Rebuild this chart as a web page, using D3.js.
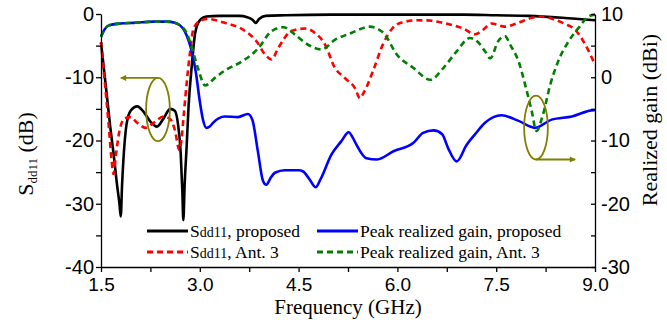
<!DOCTYPE html>
<html>
<head>
<meta charset="utf-8">
<script src="https://cdn.jsdelivr.net/npm/d3@7"></script>
<style>
  body { margin: 0; background: #fff; }
  .axis text { font-family: "Liberation Sans", Arial, sans-serif; font-size: 20px; fill: #000; }
  .axis path, .axis line { stroke: #000; stroke-width: 1.3px; }
  .title { font-family: "Liberation Serif", "Times New Roman", serif; font-size: 22px; fill: #000; }
  .leg { font-family: "Liberation Serif", "Times New Roman", serif; font-size: 17.5px; fill: #000; }
</style>
</head>
<body>
<script>
// S_dd11, proposed (dB)
var sddPropF = [1.5,1.54,1.59,1.64,1.69,1.74,1.78,1.80,1.82,1.85,1.89,1.95,2.05,2.15,2.25,2.35,2.45,2.55,2.62,2.67,2.71,2.735,2.75,2.77,2.8,2.83,2.88,2.93,3.0,3.1,3.3,3.6,3.72,3.8,3.85,3.9,4.0,4.3,5,6,7,7.5,8,8.5,9];
var sddPropV = [-4.5,-8.3,-13,-17.8,-22,-26.7,-30,-32,-27,-21.5,-17.3,-15.3,-14.6,-15.5,-17,-17.8,-16.5,-15,-15.3,-17.5,-22,-28,-32.6,-27,-21,-14.5,-8,-3,-1,-0.4,-0.3,-0.3,-0.5,-0.9,-1.4,-0.8,-0.3,-0.2,-0.1,-0.1,-0.1,-0.2,-0.3,-0.6,-1.0];

// S_dd11, Ant. 3 (dB)
var sddAnt3F = [1.5,1.56,1.62,1.66,1.69,1.73,1.78,1.86,1.95,2.05,2.18,2.3,2.45,2.55,2.62,2.69,2.72,2.76,2.8,2.85,2.9,3.0,3.12,3.38,3.69,3.86,3.99,4.09,4.19,4.39,4.6,4.75,4.9,5.05,5.2,5.36,5.43,5.5,5.63,5.78,5.93,6.08,6.3,6.45,6.65,6.85,7.0,7.18,7.3,7.43,7.63,7.83,8.04,8.19,8.39,8.55,8.7,8.85,9.0];
var sddAnt3V = [-4.5,-11,-18,-23,-25.3,-22,-18.5,-16.5,-16.3,-17.2,-18,-17.2,-16.2,-16.6,-18.3,-21.5,-20,-15.5,-11,-6.2,-2.5,-1.1,-0.8,-1.4,-2.7,-4.3,-6.4,-7.2,-5.4,-2.7,-2.3,-3.0,-4.8,-8.5,-10.1,-11.8,-13.3,-12.2,-9,-4.8,-2.2,-1.3,-1.0,-1.0,-1.3,-1.8,-2.3,-3.2,-2.5,-1.5,-2.0,-1.4,-0.6,-0.4,-0.9,-1.6,-2.5,-4.8,-8];

// Peak realized gain, proposed (dBi)
var gainPropF = [1.5,1.55,1.62,1.8,2.0,2.3,2.5,2.62,2.7,2.77,2.83,2.88,2.94,3.0,3.05,3.1,3.15,3.2,3.38,3.58,3.73,3.8,3.88,3.96,4.01,4.07,4.14,4.29,4.5,4.57,4.67,4.76,4.83,5.0,5.15,5.26,5.32,5.38,5.53,5.69,5.94,6.24,6.39,6.55,6.68,6.77,6.9,7.05,7.18,7.33,7.58,7.84,8.09,8.34,8.65,8.98,9.0];
var gainPropV = [6.4,7.5,8.2,8.5,8.6,8.8,8.8,8.6,8.2,7.3,5.8,4.0,0.8,-3.8,-6.8,-8.0,-7.8,-7.2,-6.2,-6.3,-5.8,-6.8,-11.6,-16.4,-17,-16,-15.1,-14.7,-14.7,-14.9,-16.2,-17.4,-16.2,-12.2,-10.1,-8.7,-9.5,-10.7,-12.8,-13,-11.7,-10.4,-8.8,-8.4,-9,-11.2,-13.3,-10.7,-9.0,-7.2,-6.0,-6.9,-8.0,-6.7,-6.2,-5.2,-5.3];

// Peak realized gain, Ant. 3 (dBi)
var gainAnt3F = [1.5,1.55,1.62,1.8,2.0,2.3,2.5,2.62,2.7,2.8,2.88,2.97,3.08,3.23,3.4,3.64,3.89,4.09,4.27,4.45,4.65,4.85,5.05,5.3,5.58,5.79,5.99,6.24,6.5,6.7,6.9,7.1,7.23,7.33,7.41,7.53,7.63,7.72,7.84,7.94,8.04,8.11,8.21,8.32,8.44,8.6,8.75,8.9,9.0];
var gainAnt3V = [6.4,7.5,8.2,8.5,8.6,8.8,8.8,8.6,8.2,7.0,4.6,1.5,-1.3,-0.1,1.2,2.5,4.6,7.3,7.9,6.7,5.1,4.4,5.9,7.0,8.0,7.0,3.6,1.5,-0.4,1.5,4.1,6.2,5.5,4.1,3.0,5.7,6.5,5.0,2.5,-1.2,-5.4,-8.5,-5.9,-1.2,2.5,5.7,7.8,9.6,9.9];

var xTicks = [1.5,2.25,3.0,3.75,4.5,5.25,6.0,6.75,7.5,8.25,9.0];
var yLeftTicks = [-40,-35,-30,-25,-20,-15,-10,-5,0];
var yRightTicks = [-30,-25,-20,-15,-10,-5,0,5,10];

var W = 667, H = 320;
var svg = d3.select("body").append("svg").attr("width", W).attr("height", H);

var x = d3.scaleLinear().domain([1.5, 9]).range([101, 595]);
var yL = d3.scaleLinear().domain([-40, 0]).range([267, 14]);
var yR = d3.scaleLinear().domain([-30, 10]).range([267, 14]);

function zip(f, v) { return f.map(function(d, i) { return [d, v[i]]; }); }

var lineL = d3.line().x(function(d){ return x(d[0]); }).y(function(d){ return yL(d[1]); }).curve(d3.curveMonotoneX);
var lineR = d3.line().x(function(d){ return x(d[0]); }).y(function(d){ return yR(d[1]); }).curve(d3.curveMonotoneX);

var series = [
  {name: "Sdd11, proposed", f: sddPropF, v: sddPropV, line: lineL, color: "#000000", dash: null},
  {name: "Sdd11, Ant. 3", f: sddAnt3F, v: sddAnt3V, line: lineL, color: "#ff0000", dash: "6,4"},
  {name: "Peak realized gain, proposed", f: gainPropF, v: gainPropV, line: lineR, color: "#0000ff", dash: null},
  {name: "Peak realized gain, Ant. 3", f: gainAnt3F, v: gainAnt3V, line: lineR, color: "#008000", dash: "6,4"}
];

series.forEach(function(s) {
  svg.append("path")
    .datum(zip(s.f, s.v))
    .attr("fill", "none")
    .attr("stroke", s.color)
    .attr("stroke-width", 2.6)
    .attr("stroke-dasharray", s.dash)
    .attr("d", s.line);
});

// axes
var fmt1 = d3.format(".1f");
svg.append("g").attr("class", "axis")
  .attr("transform", "translate(0,267)")
  .call(d3.axisBottom(x).tickValues(xTicks).tickSize(5).tickSizeOuter(0).tickPadding(6)
    .tickFormat(function(d, i){ return i % 2 === 0 ? fmt1(d) : ""; }))
  .selectAll("text").style("font-size", "19px");

svg.append("g").attr("class", "axis")
  .attr("transform", "translate(101,0)")
  .call(d3.axisLeft(yL).tickValues(yLeftTicks).tickSize(5).tickSizeOuter(0).tickPadding(2)
    .tickFormat(function(d){ return d % 10 === 0 ? d : ""; }));

svg.append("g").attr("class", "axis")
  .attr("transform", "translate(595,0)")
  .call(d3.axisRight(yR).tickValues(yRightTicks).tickSize(-4).tickSizeOuter(0).tickPadding(6)
    .tickFormat(function(d){ return d % 10 === 0 ? d : ""; }));

// axis titles
svg.append("text").attr("class", "title")
  .attr("x", 348).attr("y", 314).attr("text-anchor", "middle")
  .style("font-size", "21px")
  .text("Frequency (GHz)");

var lt = svg.append("text").attr("class", "title")
  .attr("transform", "translate(33,154) rotate(-90)")
  .attr("text-anchor", "middle");
lt.append("tspan").text("S");
lt.append("tspan").attr("font-size", "13px").attr("dy", 4).text("dd11");
lt.append("tspan").attr("dy", -4).text(" (dB)");

svg.append("text").attr("class", "title")
  .attr("transform", "translate(657,120) rotate(-90)")
  .attr("text-anchor", "middle")
  .text("Realized gain (dBi)");

// annotations (ellipses + arrows)
var olive = "#808000";
var defs = svg.append("defs");
defs.append("marker").attr("id", "arr").attr("viewBox", "0 0 10 10")
  .attr("refX", 9).attr("refY", 5).attr("markerWidth", 8).attr("markerHeight", 6)
  .attr("markerUnits", "userSpaceOnUse").attr("orient", "auto")
  .append("path").attr("d", "M0,0L10,5L0,10z").attr("fill", olive);

var ann = [
  {cf: 2.365, cv: -15.1, axis: yL, rf: 0.18, rv: 5, tipF: 1.8, top: true},
  {cf: 8.104, cv: -7.95, axis: yR, rf: 0.18, rv: 5.05, tipF: 8.7, top: false}
];
ann.forEach(function(a) {
  var cx = x(a.cf), cy = a.axis(a.cv);
  var rx = x(a.cf + a.rf) - cx, ry = a.axis(a.cv - a.rv) - cy;
  svg.append("ellipse").attr("cx", cx).attr("cy", cy).attr("rx", rx).attr("ry", ry)
    .attr("fill", "none").attr("stroke", olive).attr("stroke-width", 1.8);
  var ay = a.top ? cy - ry : cy + ry;
  svg.append("line").attr("x1", cx).attr("y1", ay).attr("x2", x(a.tipF)).attr("y2", ay)
    .attr("stroke", olive).attr("stroke-width", 1.8).attr("marker-end", "url(#arr)");
});

// legend
var legPos = [[147, 231], [147, 252], [317, 231], [317, 252]];
series.forEach(function(s, i) {
  var p = legPos[i];
  svg.append("line").attr("x1", p[0]).attr("x2", p[0] + 41).attr("y1", p[1]).attr("y2", p[1])
    .attr("stroke", s.color).attr("stroke-width", 3).attr("stroke-dasharray", s.dash);
  var t = svg.append("text").attr("class", "leg").attr("x", p[0] + 43).attr("y", p[1] + 5.5);
  if (s.name.indexOf("Sdd11") === 0) {
    t.append("tspan").text("S");
    t.append("tspan").attr("font-size", "14px").text("dd11");
    t.append("tspan").text(s.name.slice(5));
  } else {
    t.text(s.name);
  }
});
</script>
</body>
</html>
